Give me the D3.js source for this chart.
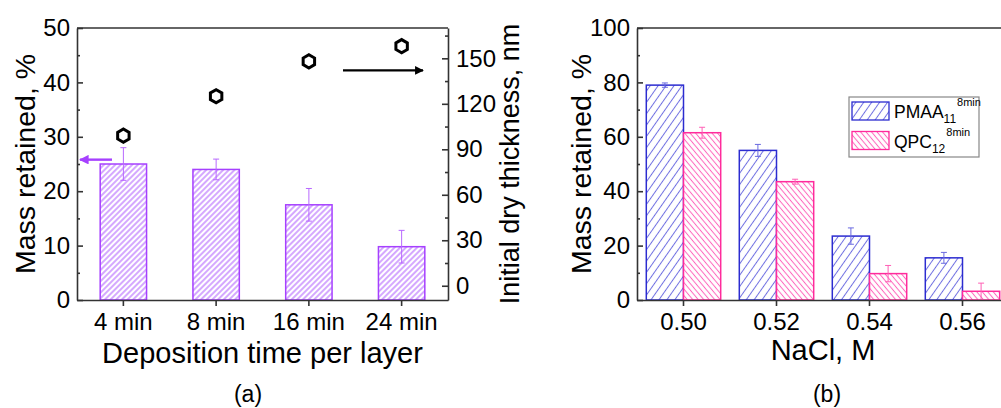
<!DOCTYPE html>
<html>
<head>
<meta charset="utf-8">
<script src="https://cdn.jsdelivr.net/npm/d3@7"></script>
<style>
  body { margin: 0; background: #fff; }
  svg { display: block; font-family: "Liberation Sans", Arial, sans-serif; }
</style>
</head>
<body>
<svg id="chart"></svg>
<script>
// panel (a) data
const timeCats = ['4 min', '8 min', '16 min', '24 min'];
const massA = [25, 24, 17.5, 9.8];
const massErrA = [3, 1.9, 3, 3];
const thickness = [99, 125, 148, 158];

// panel (b) data
const naclCats = ['0.50', '0.52', '0.54', '0.56'];
const seriesNames = ['PMAA', 'QPC'];
const seriesSub = ['11', '12'];
const seriesSup = ['8min', '8min'];
const pmaaVals = [79, 55, 23.5, 15.5];
const pmaaErr = [0.8, 2.2, 3, 2];
const qpcVals = [61.5, 43.5, 9.7, 3.2];
const qpcErr = [2, 0.9, 3, 3];

const W = 1001, H = 408;
const axisColor = '#333';

const svg = d3.select('#chart').attr('width', W).attr('height', H);
svg.append('rect').attr('width', W).attr('height', H).attr('fill', '#fff');

const defs = svg.append('defs');

// hatch patterns
function hatch(id, size, angle, color, width) {
    const p = defs.append('pattern')
        .attr('id', id)
        .attr('patternUnits', 'userSpaceOnUse')
        .attr('width', size)
        .attr('height', size)
        .attr('patternTransform', `rotate(${angle})`);
    p.append('rect').attr('width', size).attr('height', size).attr('fill', '#fff');
    p.append('line')
        .attr('x1', size / 2).attr('x2', size / 2)
        .attr('y1', 0).attr('y2', size)
        .attr('stroke', color)
        .attr('stroke-width', width);
}
hatch('hatchPurple', 4, 45, '#b261ff', 1.1);
hatch('hatchBlue', 6.5, 35, '#6f6fe2', 1);
hatch('hatchPink', 4.2, -40, '#ff66bd', 1);

// arrow heads
function arrowHead(id, color) {
    defs.append('marker')
        .attr('id', id)
        .attr('viewBox', '0 0 10 10')
        .attr('refX', 9).attr('refY', 5)
        .attr('markerWidth', 5).attr('markerHeight', 4)
        .attr('markerUnits', 'strokeWidth')
        .attr('orient', 'auto')
        .append('path')
        .attr('d', 'M0,0 L10,5 L0,10 Z')
        .attr('fill', color);
}
arrowHead('arrowPurple', '#a640ff');
arrowHead('arrowBlack', '#000');

function styleAxis(g, size) {
    g.selectAll('path, line').attr('stroke', axisColor).attr('stroke-width', 1.6);
    g.selectAll('text').attr('font-size', size).attr('fill', '#000')
        .attr('font-family', '"Liberation Sans", Arial, sans-serif');
}

// ---------------- panel (a) ----------------
const a = { left: 77, right: 448, top: 28, bottom: 300 };

const xA = d3.scaleBand().domain(timeCats).range([a.left, a.right])
    .paddingInner(0.5).paddingOuter(0.25);
const yA = d3.scaleLinear().domain([0, 50]).range([a.bottom, a.top]);
const yR = d3.scaleLinear().domain([-9.4, 170]).range([a.bottom, a.top]);

const gA = svg.append('g');

// bars
gA.selectAll('.barA')
    .data(massA)
    .join('rect')
    .attr('class', 'barA')
    .attr('x', (d, i) => xA(timeCats[i]))
    .attr('y', d => yA(d))
    .attr('width', xA.bandwidth())
    .attr('height', d => yA(0) - yA(d))
    .attr('fill', 'url(#hatchPurple)')
    .attr('stroke', '#a640ff')
    .attr('stroke-width', 1.5);

// error bars
const errA = gA.selectAll('.errA')
    .data(massA)
    .join('g')
    .attr('class', 'errA')
    .attr('stroke', '#b868ff')
    .attr('stroke-width', 1);
errA.append('line')
    .attr('x1', (d, i) => xA(timeCats[i]) + xA.bandwidth() / 2)
    .attr('x2', (d, i) => xA(timeCats[i]) + xA.bandwidth() / 2)
    .attr('y1', (d, i) => yA(d + massErrA[i]))
    .attr('y2', (d, i) => yA(d - massErrA[i]));
errA.append('line')
    .attr('x1', (d, i) => xA(timeCats[i]) + xA.bandwidth() / 2 - 3)
    .attr('x2', (d, i) => xA(timeCats[i]) + xA.bandwidth() / 2 + 3)
    .attr('y1', (d, i) => yA(d + massErrA[i]))
    .attr('y2', (d, i) => yA(d + massErrA[i]));
errA.append('line')
    .attr('x1', (d, i) => xA(timeCats[i]) + xA.bandwidth() / 2 - 3)
    .attr('x2', (d, i) => xA(timeCats[i]) + xA.bandwidth() / 2 + 3)
    .attr('y1', (d, i) => yA(d - massErrA[i]))
    .attr('y2', (d, i) => yA(d - massErrA[i]));

// hexagon markers for thickness
const hexR = 6.6;
const hexPath = (cx, cy) => d3.line()(d3.range(6).map(k => {
    const ang = Math.PI / 6 + k * Math.PI / 3;
    return [cx + hexR * Math.cos(ang), cy + hexR * Math.sin(ang)];
})) + 'Z';
gA.selectAll('.hex')
    .data(thickness)
    .join('path')
    .attr('class', 'hex')
    .attr('d', (d, i) => hexPath(xA(timeCats[i]) + xA.bandwidth() / 2, yR(d)))
    .attr('fill', 'none')
    .attr('stroke', '#000')
    .attr('stroke-width', 3);

// axes
const axA = gA.append('g').attr('transform', `translate(${a.left},0)`)
    .call(d3.axisLeft(yA).tickValues([0, 10, 20, 30, 40, 50]).tickSize(-6).tickSizeOuter(0).tickPadding(7));
styleAxis(axA, 24);
const axAm = gA.append('g').attr('transform', `translate(${a.left},0)`)
    .call(d3.axisLeft(yA).tickValues([5, 15, 25, 35, 45]).tickSize(-3).tickFormat(''));
axAm.select('.domain').remove();
styleAxis(axAm, 24);

const axR = gA.append('g').attr('transform', `translate(${a.right},0)`)
    .call(d3.axisRight(yR).tickValues([0, 30, 60, 90, 120, 150]).tickSize(-6).tickSizeOuter(0).tickPadding(8));
styleAxis(axR, 24);
const axRm = gA.append('g').attr('transform', `translate(${a.right},0)`)
    .call(d3.axisRight(yR).tickValues([15, 45, 75, 105, 135, 165]).tickSize(-3).tickFormat(''));
axRm.select('.domain').remove();
styleAxis(axRm, 24);

const axB = gA.append('g').attr('transform', `translate(0,${a.bottom})`)
    .call(d3.axisBottom(xA).tickSize(6).tickSizeOuter(0).tickPadding(7));
styleAxis(axB, 24);

gA.append('line')
    .attr('x1', a.left).attr('x2', a.right)
    .attr('y1', a.top).attr('y2', a.top)
    .attr('stroke', axisColor).attr('stroke-width', 1.6);

// arrows showing which axis applies
gA.append('line')
    .attr('x1', a.left + 35).attr('x2', a.left + 3)
    .attr('y1', yA(25.8)).attr('y2', yA(25.8))
    .attr('stroke', '#a640ff').attr('stroke-width', 2.4)
    .attr('marker-end', 'url(#arrowPurple)');
gA.append('line')
    .attr('x1', a.right - 105).attr('x2', a.right - 25)
    .attr('y1', yR(142)).attr('y2', yR(142))
    .attr('stroke', '#000').attr('stroke-width', 2.2)
    .attr('marker-end', 'url(#arrowBlack)');

// titles
gA.append('text')
    .attr('transform', `translate(35,${(a.top + a.bottom) / 2}) rotate(-90)`)
    .attr('text-anchor', 'middle')
    .attr('font-size', 28.5)
    .text('Mass retained, %');
gA.append('text')
    .attr('transform', `translate(519,${(a.top + a.bottom) / 2}) rotate(-90)`)
    .attr('text-anchor', 'middle')
    .attr('font-size', 27)
    .text('Initial dry thickness, nm');
gA.append('text')
    .attr('x', (a.left + a.right) / 2).attr('y', 363)
    .attr('text-anchor', 'middle')
    .attr('font-size', 29)
    .text('Deposition time per layer');
gA.append('text')
    .attr('x', 248).attr('y', 402)
    .attr('text-anchor', 'middle')
    .attr('font-size', 23)
    .text('(a)');

// ---------------- panel (b) ----------------
const b = { left: 637, right: 1009, top: 28, bottom: 300 };

const xB = d3.scaleBand().domain(naclCats).range([b.left, b.right])
    .paddingInner(0.2).paddingOuter(0.1);
const xSub = d3.scaleBand().domain(seriesNames).range([0, xB.bandwidth()]);
const yB = d3.scaleLinear().domain([0, 100]).range([b.bottom, b.top]);

const seriesB = [
    { name: 'PMAA', vals: pmaaVals, err: pmaaErr, fill: 'url(#hatchBlue)', stroke: '#2c2cd0', errColor: '#6a6ae0' },
    { name: 'QPC', vals: qpcVals, err: qpcErr, fill: 'url(#hatchPink)', stroke: '#ff2b9c', errColor: '#ff5fb5' }
];

const gB = svg.append('g');

seriesB.forEach(s => {
    gB.selectAll(`.bar-${s.name}`)
        .data(s.vals)
        .join('rect')
        .attr('class', `bar-${s.name}`)
        .attr('x', (d, i) => xB(naclCats[i]) + xSub(s.name))
        .attr('y', d => yB(d))
        .attr('width', xSub.bandwidth())
        .attr('height', d => yB(0) - yB(d))
        .attr('fill', s.fill)
        .attr('stroke', s.stroke)
        .attr('stroke-width', 1.5);

    const eg = gB.selectAll(`.err-${s.name}`)
        .data(s.vals)
        .join('g')
        .attr('class', `err-${s.name}`)
        .attr('stroke', s.errColor)
        .attr('stroke-width', 1);
    const cx = i => xB(naclCats[i]) + xSub(s.name) + xSub.bandwidth() / 2;
    eg.append('line')
        .attr('x1', (d, i) => cx(i)).attr('x2', (d, i) => cx(i))
        .attr('y1', (d, i) => yB(d + s.err[i]))
        .attr('y2', (d, i) => yB(Math.max(0, d - s.err[i])));
    eg.append('line')
        .attr('x1', (d, i) => cx(i) - 3).attr('x2', (d, i) => cx(i) + 3)
        .attr('y1', (d, i) => yB(d + s.err[i]))
        .attr('y2', (d, i) => yB(d + s.err[i]));
    eg.append('line')
        .attr('x1', (d, i) => cx(i) - 3).attr('x2', (d, i) => cx(i) + 3)
        .attr('y1', (d, i) => yB(Math.max(0, d - s.err[i])))
        .attr('y2', (d, i) => yB(Math.max(0, d - s.err[i])));
});

const axBL = gB.append('g').attr('transform', `translate(${b.left},0)`)
    .call(d3.axisLeft(yB).tickValues([0, 20, 40, 60, 80, 100]).tickSize(-6).tickSizeOuter(0).tickPadding(7));
styleAxis(axBL, 24);
const axBLm = gB.append('g').attr('transform', `translate(${b.left},0)`)
    .call(d3.axisLeft(yB).tickValues([10, 30, 50, 70, 90]).tickSize(-3).tickFormat(''));
axBLm.select('.domain').remove();
styleAxis(axBLm, 24);

const axBB = gB.append('g').attr('transform', `translate(0,${b.bottom})`)
    .call(d3.axisBottom(xB).tickSize(6).tickSizeOuter(0).tickPadding(7));
styleAxis(axBB, 24);

gB.append('line')
    .attr('x1', b.left).attr('x2', b.right)
    .attr('y1', b.top).attr('y2', b.top)
    .attr('stroke', axisColor).attr('stroke-width', 1.6);

// legend
const leg = gB.append('g').attr('transform', 'translate(849,97)');
leg.append('rect')
    .attr('width', 130).attr('height', 60)
    .attr('fill', '#fff')
    .attr('stroke', '#888').attr('stroke-width', 1.2);
const legItems = leg.selectAll('.legItem')
    .data(seriesB)
    .join('g')
    .attr('class', 'legItem')
    .attr('transform', (d, i) => `translate(3,${5 + i * 29.5})`);
legItems.append('rect')
    .attr('width', 37).attr('height', 18)
    .attr('fill', d => d.fill)
    .attr('stroke', d => d.stroke)
    .attr('stroke-width', 1.3);
const legText = legItems.append('text')
    .attr('x', 42).attr('y', 16)
    .attr('font-size', 17.5);
legText.append('tspan').text((d, i) => seriesNames[i]);
legText.append('tspan')
    .attr('font-size', 12).attr('dy', 5)
    .text((d, i) => seriesSub[i]);
legText.append('tspan')
    .attr('font-size', 11).attr('dy', -17).attr('dx', 1)
    .text((d, i) => seriesSup[i]);

gB.append('text')
    .attr('transform', `translate(591,${(b.top + b.bottom) / 2}) rotate(-90)`)
    .attr('text-anchor', 'middle')
    .attr('font-size', 28.5)
    .text('Mass retained, %');
gB.append('text')
    .attr('x', (b.left + b.right) / 2).attr('y', 360)
    .attr('text-anchor', 'middle')
    .attr('font-size', 29)
    .text('NaCl, M');
gB.append('text')
    .attr('x', 827).attr('y', 402)
    .attr('text-anchor', 'middle')
    .attr('font-size', 23)
    .text('(b)');
</script>
</body>
</html>
